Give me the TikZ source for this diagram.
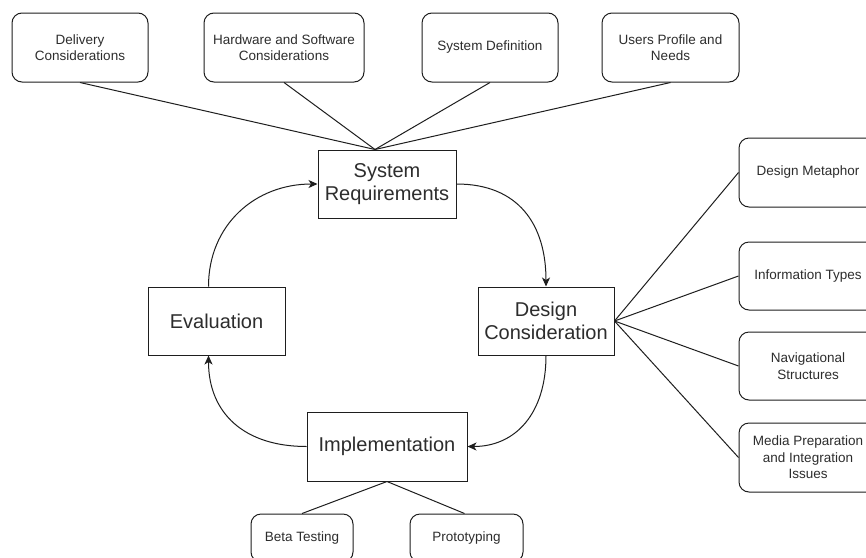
\documentclass[tikz,border=0pt]{standalone}
\usepackage{fontspec}
\setmainfont{Liberation Sans}
\usetikzlibrary{arrows.meta}
\definecolor{txt}{RGB}{45,45,45}
\definecolor{ln}{RGB}{30,30,30}
\tikzset{
  smallbox/.style={draw=ln, line width=1pt, rounded corners=10pt, align=center, text=txt,
    font=\fontsize{13.5}{16.5}\selectfont, inner sep=0pt},
  bigbox/.style={draw=ln, line width=1pt, align=center, text=txt,
    font=\fontsize{20}{23}\selectfont, inner sep=0pt},
  fan/.style={draw=ln, line width=1pt},
  flow/.style={draw=ln, line width=1pt, -{Stealth[length=9pt,width=8pt,inset=2.5pt]}}
}
\begin{document}
\begin{tikzpicture}[x=1pt,y=-1pt]
\useasboundingbox (0,0) rectangle (866,557);
\clip (0,0) rectangle (866,557);
\fill[white] (0,0) rectangle (866,557);
% top boxes
\node[smallbox, minimum width=136pt, minimum height=69pt] (del) at (80,47.5) {Delivery\\Considerations};
\node[smallbox, minimum width=160pt, minimum height=69pt] (hw) at (284,47.5) {Hardware and Software\\Considerations};
\node[smallbox, minimum width=136pt, minimum height=69pt] (sd) at (490,47.5) {System Definition};
\node[smallbox, minimum width=137pt, minimum height=69pt] (up) at (670.5,47.5) {Users Profile and\\Needs};
% main cycle
\node[bigbox, minimum width=138pt, minimum height=68pt] (sr) at (387,184) {System\\Requirements};
\node[bigbox, minimum width=136pt, minimum height=68pt] (dc) at (546,321) {Design\\Consideration};
\node[bigbox, minimum width=160pt, minimum height=69pt] (im) at (387,446.5) {Implementation};
\node[bigbox, minimum width=137pt, minimum height=68pt] (ev) at (216.5,321) {Evaluation};
% right boxes
\node[smallbox, minimum width=138pt, minimum height=69pt] (dm) at (808,172.5) {Design Metaphor};
\node[smallbox, minimum width=138pt, minimum height=68pt] (it) at (808,276) {Information Types};
\node[smallbox, minimum width=138pt, minimum height=68pt] (ns) at (808,366) {Navigational\\Structures};
\node[smallbox, minimum width=138pt, minimum height=69pt] (mp) at (808,457.5) {Media Preparation\\and Integration\\Issues};
% bottom boxes
\node[smallbox, minimum width=102pt, minimum height=48pt] (bt) at (302,538) {Beta Testing};
\node[smallbox, minimum width=113pt, minimum height=48pt] (pt) at (466.5,538) {Prototyping};
% fan lines
\coordinate (srtop) at ([xshift=-12pt]sr.north);
\draw[fan] (del.south) -- (srtop);
\draw[fan] (hw.south) -- (srtop);
\draw[fan] (sd.south) -- (srtop);
\draw[fan] (up.south) -- (srtop);
\draw[fan] (dc.east) -- (dm.west);
\draw[fan] (dc.east) -- (it.west);
\draw[fan] (dc.east) -- (ns.west);
\draw[fan] (dc.east) -- (mp.west);
\draw[fan] (im.south) -- (bt.north);
\draw[fan] (im.south) -- ([xshift=-2pt]pt.north);
% cycle arrows
\draw[flow] ([xshift=-8pt]ev.north) .. controls +(0,-62) and +(-62,0) .. (sr.west);
\draw[flow] (sr.east) .. controls +(62,0) and +(0,-62) .. (dc.north);
\draw[flow] (dc.south) .. controls +(0,58) and +(48,0) .. (im.east);
\draw[flow] (im.west) .. controls +(-62,0) and +(0,58) .. ([xshift=-8pt]ev.south);
\end{tikzpicture}
\end{document}
